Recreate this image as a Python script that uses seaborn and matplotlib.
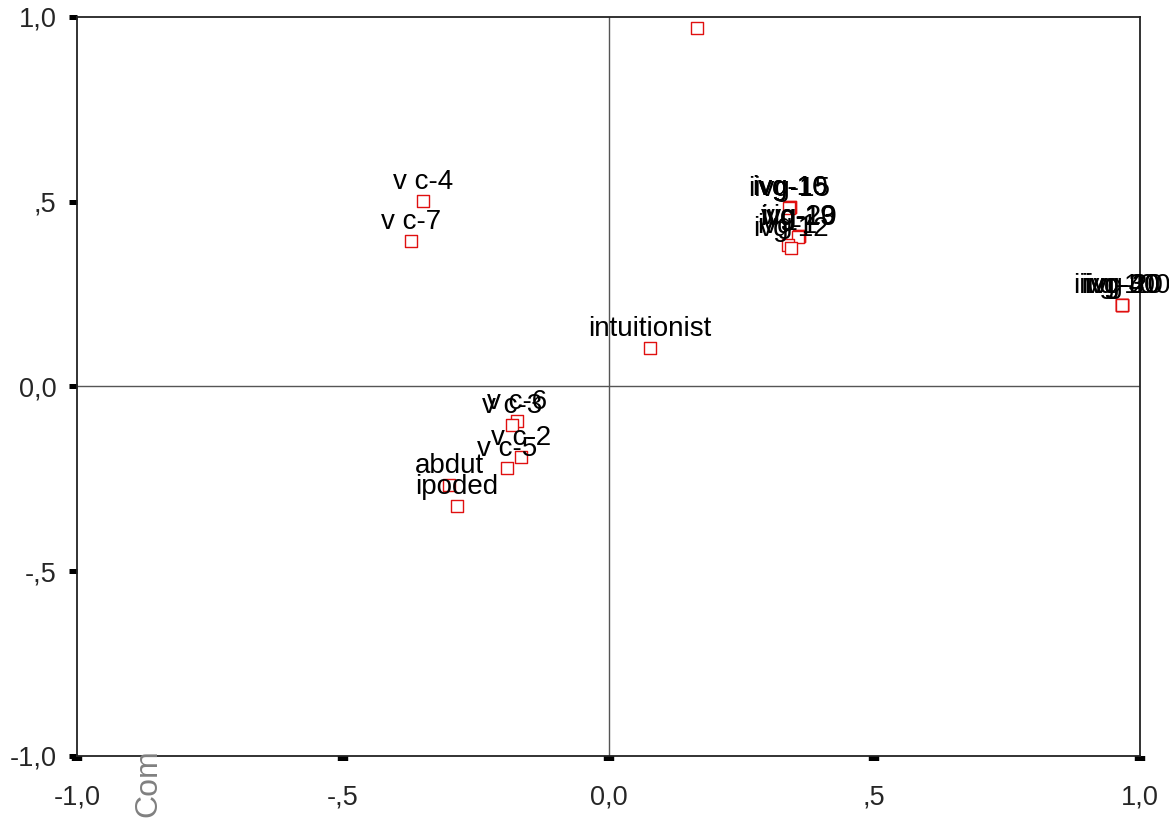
import matplotlib
matplotlib.use("Agg")
import matplotlib.pyplot as plt
import seaborn as sns
import pandas as pd

# component loadings
labels = ["", "v c-4", "v c-7",
          "ivg-10", "ivg-16", "iivg-15",
          "vig-19", "ivg-20", "ivg-13",
          "ivg-1", "ivg-12",
          "iivg-20", "ivg-30", "ivg-40", "iivg-100",
          "intuitionist",
          "v c-6", "v c-3", "v c-2", "v c-5",
          "abdut", "ipoded"]
comp1 = [0.167, -0.349, -0.372,
         0.341, 0.341, 0.340,
         0.358, 0.358, 0.357,
         0.337, 0.343,
         0.966, 0.966, 0.966, 0.966,
         0.078,
         -0.172, -0.182, -0.165, -0.191,
         -0.300, -0.285]
comp2 = [0.970, 0.502, 0.394,
         0.486, 0.486, 0.484,
         0.407, 0.407, 0.405,
         0.383, 0.375,
         0.221, 0.221, 0.221, 0.221,
         0.104,
         -0.093, -0.104, -0.190, -0.221,
         -0.267, -0.323]

tick_vals = [-1.0, -0.5, 0.0, 0.5, 1.0]
tick_text = ["-1,0", "-,5", "0,0", ",5", "1,0"]

df = pd.DataFrame({"label": labels, "c1": comp1, "c2": comp2})

sns.set_style("white")
plt.rcParams["font.family"] = ["Liberation Sans", "DejaVu Sans"]

fig = plt.figure(figsize=(11.69, 8.21), dpi=100)
ax = fig.add_axes([0.0659, 0.0792, 0.9093, 0.9001])

ax.axhline(0, color="#555555", lw=1, zorder=1)
ax.axvline(0, color="#555555", lw=1, zorder=1)

sns.scatterplot(data=df, x="c1", y="c2", marker="s", s=64,
                facecolor="white", edgecolor="#e01010", linewidth=1.0,
                ax=ax, zorder=3)

for _, r in df.iterrows():
    if r["label"]:
        ax.annotate(r["label"], (r["c1"], r["c2"]), xytext=(0, 12),
                    textcoords="offset pixels", ha="center", va="baseline",
                    fontsize=20, color="black", zorder=4,
                    annotation_clip=False)

ax.set_xlim(-1, 1)
ax.set_ylim(-1, 1)
ax.set_xticks(tick_vals)
ax.set_xticklabels(tick_text)
ax.set_yticks(tick_vals)
ax.set_yticklabels(tick_text)
ax.set_xlabel("")
ax.set_ylabel("")

ax.tick_params(axis="x", direction="out", length=3.6, width=7.5,
               color="black", labelsize=19.5, pad=17, bottom=True)
ax.tick_params(axis="y", direction="out", length=5.8, width=3.6,
               color="black", labelsize=19.5, pad=9, left=True)

for side in ["left", "bottom", "right", "top"]:
    ax.spines[side].set_visible(True)
    ax.spines[side].set_color("#222222")
    ax.spines[side].set_linewidth(1.3)

# axis title, mostly hidden behind the plot area in the original
fig.text(0.1266, 0.0875, "Com", rotation=90, ha="center", va="top",
         fontsize=23, color="#808080")

fig.savefig("out.png", dpi=100)
